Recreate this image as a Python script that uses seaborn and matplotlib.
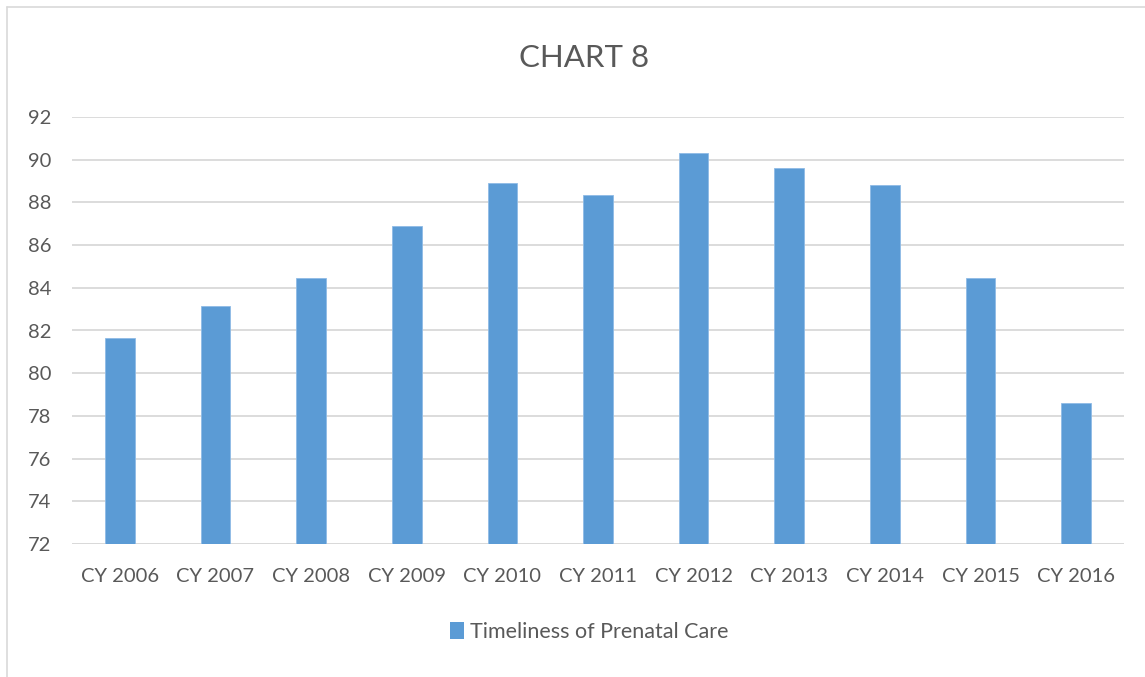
import matplotlib
matplotlib.use("Agg")
import matplotlib.pyplot as plt
from matplotlib.lines import Line2D
from matplotlib.patches import Patch
import pandas as pd
import seaborn as sns

years = ["CY 2006", "CY 2007", "CY 2008", "CY 2009", "CY 2010", "CY 2011",
         "CY 2012", "CY 2013", "CY 2014", "CY 2015", "CY 2016"]
timeliness = [81.67, 83.17, 84.48, 86.89, 88.9, 88.36, 90.33, 89.59, 88.81, 84.44, 78.62]
series_name = "Timeliness of Prenatal Care"
y_ticks = [72, 74, 76, 78, 80, 82, 84, 86, 88, 90, 92]

bar_color = "#5b9bd5"
text_color = "#595959"
grid_color = "#d9d9d9"

sns.set_theme(style="white")
plt.rcParams["font.family"] = ["Lato", "DejaVu Sans"]

df = pd.DataFrame({"year": years, "value": timeliness})

W, H = 1145, 677
fig = plt.figure(figsize=(W / 100, H / 100), dpi=100)
ax = fig.add_axes([72 / W, 1 - 544 / H, (1124 - 72) / W, (544 - 117) / H])

sns.barplot(data=df, x="year", y="value", color=bar_color, width=0.31,
            saturation=1, ax=ax, zorder=3, edgecolor="#8fbbe6", linewidth=0.6)

ax.set_ylim(72, 92)
ax.set_yticks(y_ticks)
ax.set_xlim(-0.5, len(years) - 0.5)
ax.yaxis.grid(True, color=grid_color, linewidth=1.3, zorder=0)
ax.xaxis.grid(False)
for s in ax.spines.values():
    s.set_visible(False)
ax.axhline(72, color=grid_color, linewidth=1.3, zorder=1)

ax.set_xlabel("")
ax.set_ylabel("")
ax.tick_params(axis="x", length=0, pad=17, labelsize=14.5, labelcolor=text_color)
ax.tick_params(axis="y", length=0, pad=15, labelsize=14.5, labelcolor=text_color)

fig.text(584 / W, 1 - 58 / H, "CHART 8", ha="center", va="center",
         fontsize=22.5, color=text_color)

handle = Patch(facecolor=bar_color, edgecolor="none")
fig.legend([handle], [series_name], loc="center", bbox_to_anchor=(589 / W, 1 - 632 / H),
           frameon=False, fontsize=15.5, labelcolor=text_color,
           handlelength=0.65, handleheight=0.85, handletextpad=0.3)

# outer chart border (top and left edges)
fig.add_artist(Line2D([7 / W, 1], [1 - 7 / H, 1 - 7 / H], color="#d9d9d9", linewidth=1.2))
fig.add_artist(Line2D([7 / W, 7 / W], [0, 1 - 7 / H], color="#d9d9d9", linewidth=1.2))

fig.savefig("out.png", dpi=100, facecolor="white")
